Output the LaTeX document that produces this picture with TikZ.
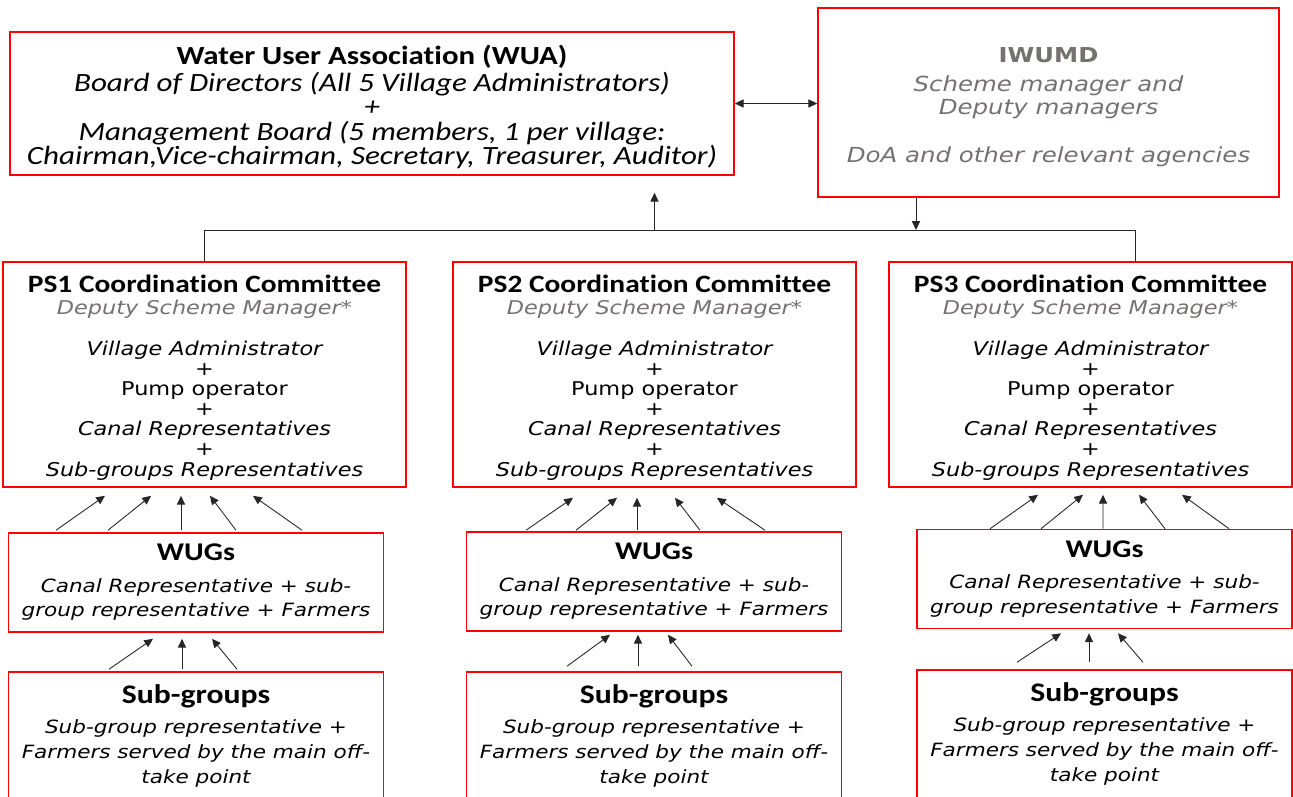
\documentclass[tikz,border=0pt]{standalone}
\usepackage{fontspec}
\usetikzlibrary{arrows.meta,calc}
\newfontfamily\calfont{Carlito}[FakeStretch=1.18, Ligatures=NoCommon]
\newfontfamily\vfont{DejaVu Sans}[FakeStretch=1.18]
\definecolor{txtgray}{RGB}{118,113,113}

\tikzset{
  box/.style={draw=red, line width=0.9pt, align=center, inner sep=0pt},
  link/.style={line width=0.5pt, draw=black!85},
  up/.style={link, -{Triangle[length=5pt,width=4.6pt]}},
}

\newcommand{\pstext}[1]{%
  {\calfont\upshape\bfseries\fontsize{14.2}{11.4}\selectfont\rule{0pt}{13.6pt}PS#1 Coordination Committee}\\[1.1pt]
  {\color{txtgray}Deputy Scheme Manager*}\\[11.9pt]
  Village Administrator\\ {\upshape +}\\ {\upshape Pump operator}\\ {\upshape +}\\
  Canal Representatives\\ {\upshape +}\\ Sub-groups Representatives}

\begin{document}
\begin{tikzpicture}[x=0.02cm, y=-0.02cm]
  \useasboundingbox (0,0) rectangle (1293,796);

  \node[box, minimum width=14.48cm, minimum height=2.86cm,
        font=\calfont\itshape\fontsize{15}{13.9}\selectfont] (wua) at (372,103.5)
    {{\upshape\bfseries\fontsize{14.9}{13.9}\selectfont\rule{0pt}{15pt}Water User Association (WUA)}\\[1.6pt]
     Board of Directors (All 5 Village Administrators)\\ +\\
     Management Board (5 members, 1 per village:\\
     Chairman,Vice-chairman, Secretary, Treasurer, Auditor)};

  \node[box, minimum width=9.22cm, minimum height=3.78cm, text=txtgray,
        font=\vfont\itshape\fontsize{11.8}{13.1}\selectfont] (iwumd) at (1048.5,102.5)
    {{\upshape\bfseries\fontsize{11.7}{13.1}\selectfont\rule{0pt}{13.5pt}IWUMD}\\[3.4pt]
     Scheme manager and\\ Deputy managers\\[14.2pt]
     DoA and other relevant agencies};

  % one column per pumping station
  \foreach \n/\px/\wx/\wy/\sy in {1/204.5/196/582.5/736, 2/654.5/654/581.5/736, 3/1090.5/1104.5/579/734}{
    \node[box, minimum width=8.06cm, minimum height=4.5cm,
          font=\vfont\itshape\fontsize{10.8}{11.4}\selectfont] (ps\n) at (\px,374.5) {\pstext{\n}};
    \node[box, minimum width=7.5cm, minimum height=1.98cm,
          font=\vfont\itshape\fontsize{10.4}{14.2}\selectfont] (wug\n) at (\wx,\wy)
      {{\calfont\upshape\bfseries\fontsize{14.5}{14.2}\selectfont WUGs}\\[3.5pt]
       Canal Representative + sub-\\ group representative + Farmers};
    \node[box, minimum width=7.5cm, minimum height=2.56cm,
          font=\vfont\itshape\fontsize{10.4}{14.2}\selectfont] (sub\n) at (\wx,\sy)
      {{\calfont\upshape\bfseries\fontsize{15.3}{14.2}\selectfont Sub-groups}\\[2.9pt]
       Sub-group representative +\\ Farmers served by the main off-\\ take point};
  }

  % links between WUA, IWUMD and the committees
  \draw[link, {Triangle[length=5pt,width=4.6pt]}-{Triangle[length=5pt,width=4.6pt]}]
    (wua.east) -- (wua.east -| iwumd.west);
  \coordinate (busl) at (ps1.north |- 0,230);
  \coordinate (busr) at (1135,230);
  \coordinate (iw) at (916,0);
  \draw[link] (ps1.north) -- (busl) -- (busr) -- (busr |- ps3.north);
  \draw[up] (ps2.north |- busl) -- ($(ps2.north |- wua.south)+(0,17)$);
  \draw[up] (iwumd.south -| iw) -- (busl -| iw);

  % WUGs -> committees
  \foreach \t/\h in {-140/-99.5, -88/-53.5, -15/-23.5, 40/5.5, 106/48.5}
    \draw[up] ($(wug1.north)+(\t,-2)$) -- ($(ps1.south)+(\h,8)$);
  \foreach \t/\h in {-128/-81.5, -78/-37.5, -17/-17.5, 46/20.5, 111/62.5}
    \draw[up] ($(wug2.north)+(\t,-1)$) -- ($(ps2.south)+(\h,10)$);
  \foreach \t/\h in {-114.5/-52.5, -63.5/-7.5, -1.5/12.5, 60.5/48.5, 124.5/91.5}
    \draw[up] ($(wug3.north)+(\t,0)$) -- ($(ps3.south)+(\h,7)$);

  % sub-groups -> WUGs
  \foreach \t/\h in {-87/-43, -14/-14, 41/16}
    \draw[up] ($(sub1.north)+(\t,-2)$) -- ($(wug1.south)+(\h,6)$);
  \foreach \t/\h in {-87/-44, -16/-16, 38/14}
    \draw[up] ($(sub2.north)+(\t,-5)$) -- ($(wug2.south)+(\h,3)$);
  \foreach \t/\h in {-87.5/-43.5, -15.5/-15.5, 38.5/13.5}
    \draw[up] ($(sub3.north)+(\t,-7)$) -- ($(wug3.south)+(\h,4)$);
\end{tikzpicture}
\end{document}
